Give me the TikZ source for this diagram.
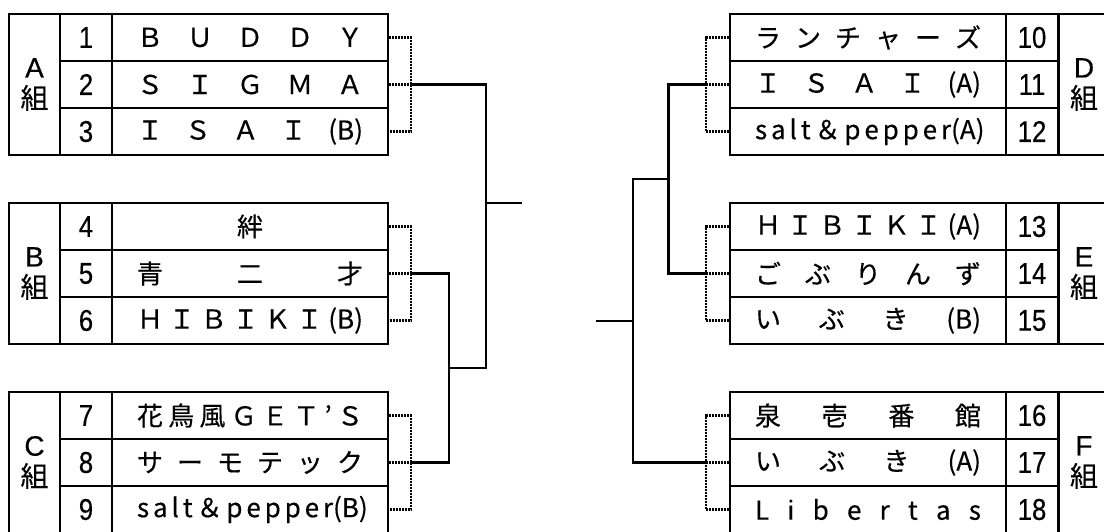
\documentclass[tikz,border=0pt]{standalone}
\usepackage{fontspec}
\newfontfamily\jp[FakeBold=0.4]{Noto Sans CJK JP}
\newfontfamily\lat[FakeBold=0.4]{Liberation Sans}
\newfontfamily\digit[FakeBold=0.4,FakeStretch=0.86]{Liberation Sans}
\newcommand\spr[1]{\makebox[226pt][s]{#1}}

\begin{document}
\begin{tikzpicture}[x=1pt,y=-1pt,
  cell/.style={draw,line width=2.8pt,inner sep=0pt,minimum height=47pt,font=\jp\fontsize{26}{30}\selectfont},
  namecell/.style={cell,minimum width=276pt},
  numcell/.style={cell,minimum width=52pt,font=\digit\fontsize{30}{30}\selectfont},
  grpcell/.style={cell,minimum width=51pt,minimum height=141pt,align=center,font=\jp\fontsize{28}{31}\selectfont},
  dotline/.style={line width=2.2pt,dash pattern=on 1.8pt off 1.2pt},
  winline/.style={line width=2.8pt}]
\useasboundingbox (0,0) rectangle (1104,531);
% left side
\node[grpcell] (ga) at (34.5,84.5) {{\lat A}\\組};
\node[numcell] (k1) at (86,37.5) {1};
\node[numcell] (k2) at (86,84.5) {2};
\node[numcell] (k3) at (86,131.5) {3};
\node[namecell] (n1) at (250,37.5) {\spr{Ｂ Ｕ Ｄ Ｄ Ｙ}};
\node[namecell] (n2) at (250,84.5) {\spr{Ｓ Ｉ Ｇ Ｍ Ａ}};
\node[namecell] (n3) at (250,131.5) {\spr{Ｉ Ｓ Ａ Ｉ (B)}};

\node[grpcell] (gb) at (34.5,273.5) {{\lat B}\\組};
\node[numcell] (k4) at (86,226.5) {4};
\node[numcell] (k5) at (86,273.5) {5};
\node[numcell] (k6) at (86,320.5) {6};
\node[namecell] (n4) at (250,226.5) {絆};
\node[namecell] (n5) at (250,273.5) {\spr{青 二 才}};
\node[namecell] (n6) at (250,320.5) {\spr{Ｈ Ｉ Ｂ Ｉ Ｋ Ｉ (B)}};

\node[grpcell] (gc) at (34.5,462.5) {{\lat C}\\組};
\node[numcell] (k7) at (86,415.5) {7};
\node[numcell] (k8) at (86,462.5) {8};
\node[numcell] (k9) at (86,509.5) {9};
\node[namecell] (n7) at (250,415.5) {\spr{花 鳥 風 Ｇ Ｅ Ｔ ’ Ｓ}};
\node[namecell] (n8) at (250,462.5) {\spr{サ ー モ テ ッ ク}};
\node[namecell] (n9) at (250,509.5) {\spr{s a l t ＆ p e p p e r(B)}};

% right side
\node[grpcell] (gd) at (1084,84.5) {{\lat D}\\組};
\node[numcell] (k10) at (1032,37.5) {10};
\node[numcell] (k11) at (1032,84.5) {11};
\node[numcell] (k12) at (1032,131.5) {12};
\node[namecell] (n10) at (868,37.5) {\spr{ラ ン チ ャ ー ズ}};
\node[namecell] (n11) at (868,84.5) {\spr{Ｉ Ｓ Ａ Ｉ (A)}};
\node[namecell] (n12) at (868,131.5) {\spr{s a l t ＆ p e p p e r(A)}};

\node[grpcell] (ge) at (1084,273.5) {{\lat E}\\組};
\node[numcell] (k13) at (1032,226.5) {13};
\node[numcell] (k14) at (1032,273.5) {14};
\node[numcell] (k15) at (1032,320.5) {15};
\node[namecell] (n13) at (868,226.5) {\spr{Ｈ Ｉ Ｂ Ｉ Ｋ Ｉ (A)}};
\node[namecell] (n14) at (868,273.5) {\spr{ご ぶ り ん ず}};
\node[namecell] (n15) at (868,320.5) {\spr{い ぶ き (B)}};

\node[grpcell] (gf) at (1084,462.5) {{\lat F}\\組};
\node[numcell] (k16) at (1032,415.5) {16};
\node[numcell] (k17) at (1032,462.5) {17};
\node[numcell] (k18) at (1032,509.5) {18};
\node[namecell] (n16) at (868,415.5) {\spr{泉 壱 番 館}};
\node[namecell] (n17) at (868,462.5) {\spr{い ぶ き (A)}};
\node[namecell] (n18) at (868,509.5) {\spr{L i b e r t a s}};

% junctions
\coordinate (ja) at (411,84.5);
\coordinate (jb) at (411,273.5);
\coordinate (jc) at (411,462.5);
\coordinate (bc) at (449,368);
\coordinate (l) at (486,203);
\coordinate (lout) at (522,203);
\coordinate (jd) at (706,84.5);
\coordinate (je) at (706,273.5);
\coordinate (jf) at (706,462.5);
\coordinate (de) at (668.5,179);
\coordinate (r) at (633,321);
\coordinate (rout) at (596,321);

% dotted lines
\draw[dotline] (n1.east) -| (ja) |- (n3.east);
\draw[dotline] (n2.east) -- (ja);
\draw[dotline] (n4.east) -| (jb) |- (n6.east);
\draw[dotline] (n5.east) -- (jb);
\draw[dotline] (n7.east) -| (jc) |- (n9.east);
\draw[dotline] (n8.east) -- (jc);
\draw[dotline] (n10.west) -| (jd) |- (n12.west);
\draw[dotline] (n11.west) -- (jd);
\draw[dotline] (n13.west) -| (je) |- (n15.west);
\draw[dotline] (n14.west) -- (je);
\draw[dotline] (n16.west) -| (jf) |- (n18.west);
\draw[dotline] (n17.west) -- (jf);

% bracket
\draw[winline] (jb) -| (bc) |- (jc);
\draw[winline] (bc) -| (l) |- (ja);
\draw[winline] (l) -- (lout);
\draw[winline] (jd) -| (de) |- (je);
\draw[winline] (de) -| (r) |- (jf);
\draw[winline] (r) -- (rout);

\end{tikzpicture}
\end{document}
